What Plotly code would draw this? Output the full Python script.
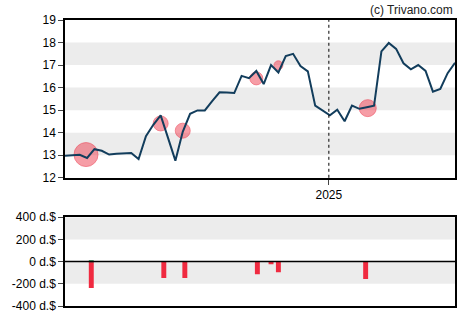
import datetime as dt
import plotly.graph_objects as go

# ---- data ----
start = dt.date(2024, 4, 25)
price = [12.98, 13.0, 13.02, 12.88, 13.27, 13.2, 13.03, 13.07, 13.08, 13.1,
         12.83, 13.85, 14.35, 14.77, 13.77, 12.76, 14.04, 14.84, 14.99, 14.99,
         15.4, 15.79, 15.78, 15.76, 16.52, 16.42, 16.74, 16.16, 17.0, 16.67,
         17.4, 17.5, 16.96, 16.72, 15.2, 15.0, 14.77, 15.02, 14.51, 15.2,
         15.06, 15.13, 15.2, 17.61, 17.98, 17.72, 17.08, 16.81, 17.0, 16.74,
         15.82, 15.94, 16.64, 17.1]
dates = [start + dt.timedelta(days=7 * i) for i in range(len(price))]

trade_dates = ["2024-05-15", "2024-07-25", "2024-08-15", "2024-10-24", "2024-11-14", "2025-02-07"]
trade_prices = [13.03, 14.41, 14.09, 16.41, 16.99, 15.09]
trade_sizes = [24, 15, 15, 13, 9, 17]

sell_dates = ["2024-05-20", "2024-07-28", "2024-08-17", "2024-10-25", "2024-11-07", "2024-11-14", "2025-02-05"]
sell_values = [-237, -148, -148, -113, -24, -95, -157]
buy_dates = ["2024-05-20"]
buy_values = [10]

y_ticks = [400, 200, 0, -200, -400]
y_tick_labels = ["400 d.$", "200 d.$", "0 d.$", "-200 d.$", "-400 d.$"]

x_start = "2024-04-25"
x_end = str(dates[-1])

fig = go.Figure()

fig.add_trace(go.Scatter(x=trade_dates, y=trade_prices, mode="markers",
                         marker=dict(size=trade_sizes, color="rgba(238,50,70,0.68)",
                                     line=dict(color="rgba(235,45,65,0.75)", width=1)),
                         xaxis="x", yaxis="y", hoverinfo="skip"))
fig.add_trace(go.Scatter(x=dates, y=price, mode="lines",
                         line=dict(color="#123d5c", width=2),
                         xaxis="x", yaxis="y", hoverinfo="skip"))
bw = 4.7 * 86400000
fig.add_trace(go.Bar(x=sell_dates, y=sell_values, marker_color="#f02a40",
                     marker_line_width=0,
                     width=bw, xaxis="x2", yaxis="y2", hoverinfo="skip"))
fig.add_trace(go.Bar(x=buy_dates, y=buy_values, marker_color="#1f8a4c",
                     marker_line_width=0,
                     width=bw, xaxis="x2", yaxis="y2", hoverinfo="skip"))

shapes = []
for lo, hi in [(13, 14), (15, 16), (17, 18)]:
    shapes.append(dict(type="rect", xref="x domain", yref="y", x0=0, x1=1, y0=lo, y1=hi,
                       fillcolor="#ececec", line_width=0, layer="below"))
for lo, hi in [(200, 400), (-200, 0)]:
    shapes.append(dict(type="rect", xref="x2 domain", yref="y2", x0=0, x1=1, y0=lo, y1=hi,
                       fillcolor="#ececec", line_width=0, layer="below"))
shapes.append(dict(type="line", xref="x", yref="y domain", x0="2025-01-01", x1="2025-01-01",
                   y0=0, y1=1, line=dict(color="black", width=1, dash="dot")))
shapes.append(dict(type="line", xref="x2 domain", yref="y2", x0=0, x1=1, y0=0, y1=0,
                   line=dict(color="black", width=1.5)))

font = dict(family="Liberation Sans, Arial, sans-serif", size=12, color="black")

fig.update_layout(
    width=470, height=325,
    margin=dict(l=60, r=15, t=20, b=15),
    paper_bgcolor="white", plot_bgcolor="white",
    showlegend=False, barmode="overlay",
    font=font,
    shapes=shapes,
    xaxis=dict(domain=[0, 1], anchor="y", type="date", range=[x_start, x_end],
               tickvals=["2025-01-01"], ticktext=["2025"], ticks="outside", ticklen=5,
               showgrid=False, showline=True, linecolor="black", linewidth=1.5, mirror=True,
               zeroline=False),
    yaxis=dict(domain=[0.4483, 1], anchor="x", range=[12, 19], dtick=1, tick0=12,
               ticks="outside", ticklen=5, showgrid=False, showline=True, linecolor="black",
               linewidth=1.5, mirror=True, zeroline=False),
    xaxis2=dict(domain=[0, 1], anchor="y2", type="date", range=[x_start, x_end],
                showticklabels=False, ticks="", showgrid=False, showline=True,
                linecolor="black", linewidth=1.5, mirror=True, zeroline=False),
    yaxis2=dict(domain=[0, 0.3103], anchor="x2", range=[-400, 400],
                tickvals=y_ticks, ticktext=y_tick_labels, ticks="outside", ticklen=5,
                showgrid=False, showline=True, linecolor="black", linewidth=1.5,
                mirror=True, zeroline=False),
    annotations=[dict(text="(c) Trivano.com", xref="paper", yref="paper", x=1, y=1,
                      xanchor="right", yanchor="bottom", yshift=1, showarrow=False,
                      font=dict(family="Liberation Sans, Arial, sans-serif", size=12, color="#222"))],
)

fig.write_html("out.html")
